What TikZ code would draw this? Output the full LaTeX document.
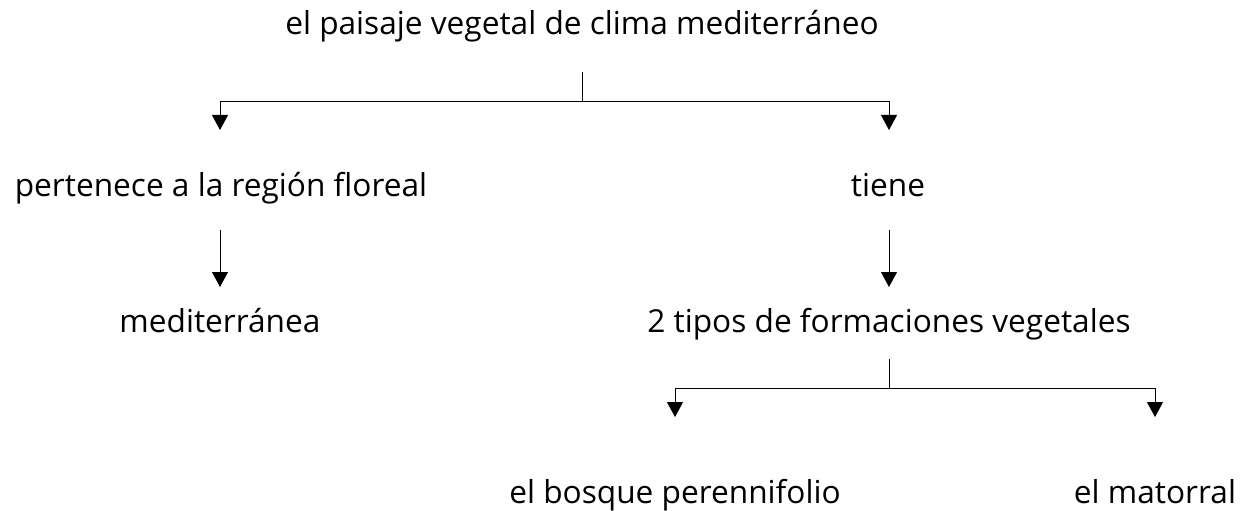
\documentclass[tikz,border=0pt]{standalone}
\usepackage{fontspec}
\setmainfont{Open Sans}
\usetikzlibrary{arrows.meta}

\begin{document}
\begin{tikzpicture}[>={Triangle[length=.3cm,width=.32cm]},-,line width=.55pt,
    concept/.style={inner sep=0pt,anchor=base,font=\fontsize{18}{20}\selectfont}]
            \useasboundingbox (0,0) rectangle (24.96,-10.22);

            \node [concept] (paisaje) at (11.64, -0.70) {el paisaje vegetal de clima mediterráneo};
            \node [concept] (region) at (4.42, -3.94) {pertenece a la región floreal};
            \node [concept] (tiene) at (17.76, -3.94) {tiene};
            \node [concept] (medit) at (4.40, -6.64) {mediterránea};
            \node [concept] (tipos) at (17.78, -6.64) {2 tipos de formaciones vegetales};
            \node [concept] (bosque) at (13.5, -10.06) {el bosque perennifolio};
            \node [concept] (matorral) at (23.1, -10.06) {el matorral};

            \coordinate (a0) at (11.64, -1.44);
            \coordinate (a1) at (11.64, -2.02);
            \coordinate (a2) at (4.40, -2.60);
            \coordinate (a3) at (17.78, -2.60);
            \coordinate (b0) at (4.40, -4.60);
            \coordinate (b1) at (4.40, -5.74);
            \coordinate (c0) at (17.78, -4.60);
            \coordinate (c1) at (17.78, -5.74);
            \coordinate (d0) at (17.78, -7.18);
            \coordinate (d1) at (17.78, -7.76);
            \coordinate (d2) at (13.5, -8.34);
            \coordinate (d3) at (23.1, -8.34);

            \draw (a0) -- (a1);
            \draw [->] (a1) -| (a2);
            \draw [->] (a1) -| (a3);
            \draw [->] (b0) -- (b1);
            \draw [->] (c0) -- (c1);
            \draw (d0) -- (d1);
            \draw [->] (d1) -| (d2);
            \draw [->] (d1) -| (d3);

        \end{tikzpicture}
\end{document}
